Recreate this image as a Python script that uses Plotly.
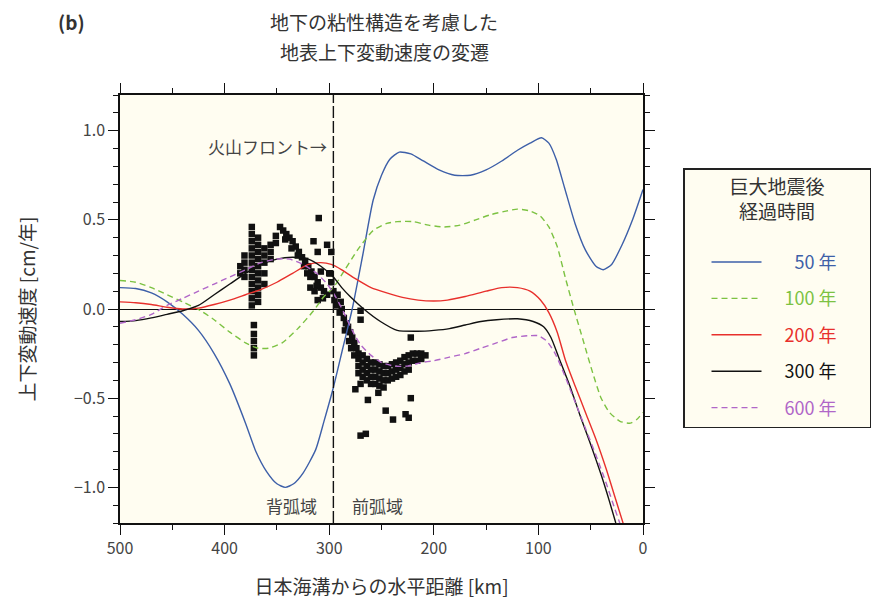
import plotly.graph_objects as go

# ---------------- data ----------------
BLUE_KM = [500, 485, 470, 455, 440, 425, 410, 395, 380, 370, 360, 350, 342, 334, 325, 313, 305, 296, 287, 278,
           268, 258, 250, 242, 233, 222, 210, 195, 180, 165, 150, 135, 120, 108, 97, 90, 83, 75, 65, 55, 45, 38,
           30, 20, 10, 0]
BLUE_V = [0.12, 0.115, 0.09, 0.04, -0.03, -0.12, -0.25, -0.42, -0.64, -0.80, -0.91, -0.98, -1.00, -0.98, -0.92,
          -0.79, -0.63, -0.44, -0.22, 0.0, 0.30, 0.61, 0.75, 0.84, 0.88, 0.87, 0.83, 0.78, 0.75, 0.75, 0.78, 0.83,
          0.89, 0.93, 0.96, 0.93, 0.84, 0.68, 0.48, 0.33, 0.24, 0.22, 0.25, 0.36, 0.50, 0.67]

GREEN_KM = [500, 485, 470, 455, 440, 423, 410, 395, 380, 368, 358, 345, 330, 315, 305, 296, 285, 273, 258, 245,
            235, 220, 205, 190, 175, 160, 145, 130, 120, 108, 98, 90, 82, 74, 66, 57, 48, 40, 32, 22, 12, 6, 0]
GREEN_V = [0.16, 0.15, 0.12, 0.08, 0.04, -0.01, -0.06, -0.13, -0.19, -0.22, -0.22, -0.19, -0.11, -0.01, 0.07,
           0.12, 0.22, 0.33, 0.44, 0.48, 0.49, 0.49, 0.47, 0.46, 0.47, 0.50, 0.53, 0.55, 0.56, 0.55, 0.52, 0.46,
           0.35, 0.17, 0.0, -0.18, -0.36, -0.50, -0.58, -0.63, -0.64, -0.62, -0.58]

RED_KM = [500, 485, 470, 455, 440, 425, 410, 395, 380, 365, 350, 335, 320, 308, 298, 288, 275, 260, 245, 230,
          215, 200, 187, 170, 150, 135, 120, 108, 98, 90, 82, 74, 65, 55, 45, 35, 26, 18]
RED_V = [0.04, 0.035, 0.025, 0.01, 0.0, 0.005, 0.025, 0.05, 0.08, 0.11, 0.15, 0.20, 0.25, 0.26, 0.25, 0.22, 0.17,
         0.12, 0.09, 0.065, 0.05, 0.045, 0.05, 0.07, 0.10, 0.12, 0.12, 0.10, 0.05, -0.02, -0.13, -0.29, -0.43,
         -0.58, -0.73, -0.90, -1.07, -1.22]

BLACK_KM = [500, 485, 470, 455, 440, 425, 410, 395, 380, 365, 350, 335, 320, 308, 296, 288, 280, 267, 251, 235,
            215, 200, 185, 170, 155, 140, 120, 105, 95, 88, 80, 70, 60, 50, 40, 32, 26]
BLACK_V = [-0.07, -0.065, -0.05, -0.03, -0.01, 0.02, 0.08, 0.14, 0.20, 0.25, 0.28, 0.29, 0.28, 0.24, 0.18, 0.12,
           0.07, 0.0, -0.07, -0.12, -0.125, -0.12, -0.11, -0.09, -0.07, -0.06, -0.055, -0.07, -0.10, -0.16, -0.28,
           -0.43, -0.60, -0.76, -0.93, -1.08, -1.20]

PURPLE_KM = [500, 485, 470, 455, 440, 425, 410, 395, 380, 365, 350, 338, 325, 312, 302, 294, 286, 278, 270, 260,
             250, 238, 225, 212, 200, 185, 170, 155, 140, 125, 110, 100, 92, 84, 75, 65, 55, 45, 35, 27, 21]
PURPLE_V = [-0.08, -0.06, -0.03, 0.02, 0.06, 0.10, 0.14, 0.18, 0.22, 0.26, 0.28, 0.28, 0.25, 0.20, 0.14, 0.07,
            -0.02, -0.12, -0.20, -0.26, -0.30, -0.32, -0.32, -0.30, -0.29, -0.27, -0.25, -0.22, -0.19, -0.16,
            -0.15, -0.15, -0.18, -0.25, -0.37, -0.52, -0.67, -0.82, -0.98, -1.12, -1.22]

# legend labels (figure space right-aligns the two-digit label)
SERIES_NAMES = ["\u200750 年", "100 年", "200 年", "300 年", "600 年"]

# observed uplift rates (black squares)
OBS_KM = [374, 374, 374, 374, 374, 374, 374, 374, 374, 374, 374, 374,
          368, 368, 368, 368, 368, 368, 368, 368, 368, 368,
          381, 381, 381, 381, 385, 385,
          362, 362, 362, 362, 362, 356, 356, 356, 351, 351,
          372, 372, 372, 372, 372,
          347, 344, 341, 338, 335, 332, 329, 326, 323, 320, 317, 314, 311, 308, 305, 302,
          342, 336, 330, 324, 318, 312, 306,
          310, 315, 302, 311, 298, 318, 314, 308, 299, 321, 311,
          300, 298, 296, 295, 293, 290, 288, 286, 284, 282, 280, 278, 276, 274, 272,
          292, 289, 285, 281, 279, 276,
          272, 272, 272, 268, 268, 268, 268, 264, 264, 264, 264, 260, 260, 260, 260,
          256, 256, 256, 256, 252, 252, 252, 252, 248, 248, 248, 248, 244, 244, 244,
          240, 240, 240, 236, 236, 236, 232, 232, 232, 228, 228, 228, 224, 224, 224,
          220, 220, 216, 216, 212, 212, 208,
          270, 270, 222, 270, 263, 253, 246, 239, 227, 224, 222, 270, 265, 275]
OBS_V = [0.46, 0.42, 0.38, 0.34, 0.30, 0.26, 0.22, 0.18, 0.14, 0.10, 0.06, 0.02,
         0.40, 0.36, 0.32, 0.28, 0.24, 0.20, 0.16, 0.12, 0.08, 0.04,
         0.30, 0.26, 0.22, 0.18, 0.24, 0.20,
         0.34, 0.30, 0.26, 0.20, 0.14, 0.36, 0.32, 0.28, 0.41, 0.37,
         -0.09, -0.14, -0.18, -0.22, -0.26,
         0.46, 0.44, 0.42, 0.40, 0.38, 0.35, 0.32, 0.29, 0.27, 0.24, 0.21, 0.18, 0.15, 0.12, 0.10, 0.08,
         0.39, 0.34, 0.30, 0.24, 0.18, 0.13, 0.06,
         0.51, 0.38, 0.36, 0.32, 0.32, 0.12, 0.10, 0.21, 0.20, 0.20, 0.05,
         0.20, 0.15, 0.10, 0.05, 0.02, -0.02, 0.00, -0.05, -0.08, -0.10, -0.13, -0.16, -0.19, -0.22, -0.25,
         0.08, 0.04, -0.12, -0.18, -0.22, -0.26,
         -0.28, -0.32, -0.36, -0.26, -0.30, -0.34, -0.38, -0.28, -0.32, -0.36, -0.40, -0.30, -0.34, -0.38, -0.42,
         -0.30, -0.34, -0.38, -0.42, -0.31, -0.35, -0.39, -0.43, -0.32, -0.36, -0.40, -0.44, -0.32, -0.36, -0.40,
         -0.31, -0.35, -0.39, -0.30, -0.34, -0.38, -0.29, -0.33, -0.37, -0.27, -0.31, -0.35, -0.26, -0.30, -0.34,
         -0.25, -0.29, -0.25, -0.29, -0.25, -0.28, -0.26,
         -0.01, -0.06, -0.16, -0.42, -0.51, -0.47, -0.57, -0.62, -0.59, -0.61, -0.50, -0.71, -0.70, -0.45]

VOLCANIC_FRONT_KM = 296
X_TICKS = [500, 400, 300, 200, 100, 0]
Y_TICKS = [-1.0, -0.5, 0.0, 0.5, 1.0]
Y_TICK_TEXT = ["−1.0", "−0.5", "0.0", "0.5", "1.0"]

# ---------------- figure ----------------
FONT = "Noto Sans CJK JP"
COLORS = ["#3d5fa8", "#7cc242", "#e8302c", "#111111", "#b066c8"]
DASHES = ["solid", "6px,4px", "solid", "solid", "6px,4px"]
curves = [(BLUE_KM, BLUE_V), (GREEN_KM, GREEN_V), (RED_KM, RED_V), (BLACK_KM, BLACK_V), (PURPLE_KM, PURPLE_V)]

fig = go.Figure()

fig.add_trace(go.Scatter(x=OBS_KM, y=OBS_V, mode="markers", showlegend=False, name="観測値",
                         marker=dict(symbol="square", size=6.5, color="#111111", line=dict(width=0))))

for (xs, ys), name, c, d in zip(curves, SERIES_NAMES, COLORS, DASHES):
    fig.add_trace(go.Scatter(
        x=xs, y=ys, mode="lines", line=dict(color=c, width=1.4, dash=d, shape="spline", smoothing=0.6),
        name=f"\u2003<span style='color:{c}'>{name}</span>\u2003\u2002", legendgroup=name))

fig.add_shape(type="line", xref="x", yref="paper", x0=VOLCANIC_FRONT_KM, x1=VOLCANIC_FRONT_KM, y0=0, y1=1,
              line=dict(color="#111111", width=1.4, dash="12px,3px"))

ann_font = dict(family=FONT, size=17, color="#444444")
fig.add_annotation(x=VOLCANIC_FRONT_KM + 4, y=0.91, xref="x", yref="y", text="火山フロント→",
                   showarrow=False, xanchor="right", yanchor="middle", font=ann_font)
fig.add_annotation(x=336, y=-1.1, xref="x", yref="y", text="背弧域", showarrow=False, font=ann_font)
fig.add_annotation(x=254, y=-1.1, xref="x", yref="y", text="前弧域", showarrow=False, font=ann_font)

title_font = dict(family=FONT, size=19, color="#333333")
fig.add_annotation(x=0.505, y=1.1706, xref="paper", yref="paper", text="地下の粘性構造を考慮した",
                   showarrow=False, font=title_font, yanchor="middle")
fig.add_annotation(x=0.505, y=1.1005, xref="paper", yref="paper", text="地表上下変動速度の変遷",
                   showarrow=False, font=title_font, yanchor="middle")
fig.add_annotation(x=-0.122, y=1.1706, xref="paper", yref="paper", text="<b>(b)</b>", showarrow=False,
                   xanchor="left", yanchor="middle", font=dict(family=FONT, size=19, color="#333333"))

axis_common = dict(showline=True, linecolor="#111111", linewidth=1.5, mirror="ticks", ticks="outside",
                   tickcolor="#111111", tickwidth=1.3, showgrid=False, automargin=False,
                   tickfont=dict(family=FONT, size=16, color="#444444"))

# the page body adds an 8px offset, so the figure is 8px smaller on each axis
fig.update_layout(
    width=875, height=606,
    margin=dict(l=112, r=240, t=87, b=91),
    paper_bgcolor="white", plot_bgcolor="#fffdf1",
    font=dict(family=FONT, color="#333333"),
    xaxis=dict(range=[500, 0], tickvals=X_TICKS, ticklen=10,
               minor=dict(dtick=50, ticks="outside", ticklen=5, tickcolor="#111111", tickwidth=1.3),
               title=dict(text="日本海溝からの水平距離 [km]", font=dict(family=FONT, size=19, color="#333333"),
                          standoff=23),
               zeroline=False, **axis_common),
    yaxis=dict(range=[-1.2, 1.2], tickvals=Y_TICKS, ticktext=Y_TICK_TEXT, ticklen=10,
               minor=dict(dtick=0.1, ticks="outside", ticklen=5, tickcolor="#111111", tickwidth=1.3),
               title=dict(text="上下変動速度 [cm/年]", font=dict(family=FONT, size=19, color="#333333"),
                          standoff=33),
               zeroline=True, zerolinecolor="#111111", zerolinewidth=1.3, **axis_common),
    legend=dict(x=1.0765, y=0.829, xanchor="left", yanchor="top", bgcolor="#fffdf1",
                bordercolor="#222222", borderwidth=1.5, tracegroupgap=10, indentation=22, itemwidth=50,
                font=dict(family=FONT, size=18),
                title=dict(text="巨大地震後<br>\u2002経過時間<br> ", side="top center",
                           font=dict(family=FONT, size=19, color="#333333"))),
)

fig.write_html("out.html")
